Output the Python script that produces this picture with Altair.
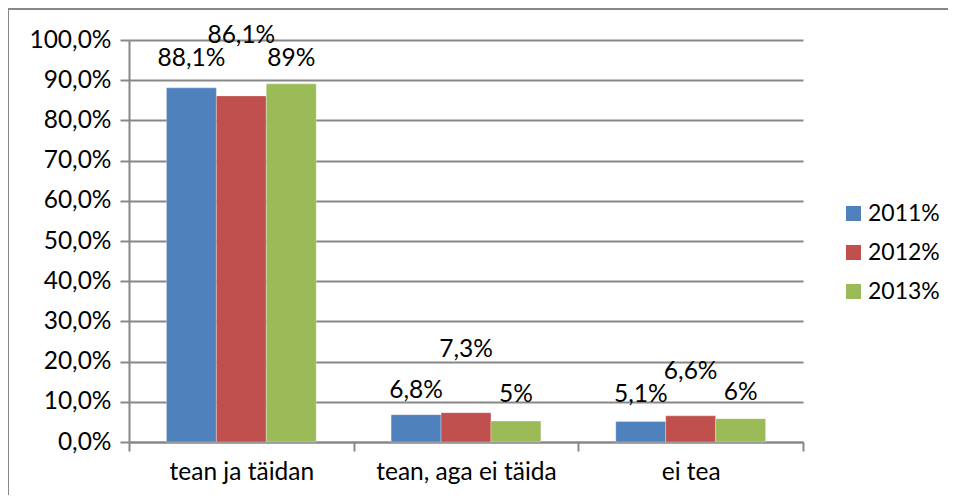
import altair as alt
import pandas as pd

categories = ["tean ja täidan", "tean, aga ei täida", "ei tea"]
series = ["2011%", "2012%", "2013%"]
values_2011 = [88.1, 6.8, 5.1]
values_2012 = [86.1, 7.3, 6.5]
values_2013 = [89.1, 5.2, 5.8]
labels_2011 = ["88,1%", "6,8%", "5,1%"]
labels_2012 = ["86,1%", "7,3%", "6,6%"]
labels_2013 = ["89%", "5%", "6%"]
# label anchor heights (in % units) as placed in the reference
label_at_2011 = [95.2, 12.8, 11.6]
label_at_2012 = [101.0, 22.8, 17.3]
label_at_2013 = [95.2, 11.6, 12.3]
colors = ["#4F81BD", "#C0504D", "#9BBB59"]
y_ticks = [0, 10, 20, 30, 40, 50, 60, 70, 80, 90, 100]

rows = []
for s, vals, labs, ats in [
    (series[0], values_2011, labels_2011, label_at_2011),
    (series[1], values_2012, labels_2012, label_at_2012),
    (series[2], values_2013, labels_2013, label_at_2013),
]:
    for c, v, l, a in zip(categories, vals, labs, ats):
        rows.append({"cat": c, "series": s, "value": v, "label": l, "at": a})
df = pd.DataFrame(rows)

FONT = "Lato"
FS = 24.5
LFS = 23

x_enc = alt.X("cat:N", sort=categories, title=None,
              scale=alt.Scale(paddingInner=0, paddingOuter=0),
              axis=alt.Axis(labelAngle=0, tickBand="extent", tickSize=9,
                            tickColor="#888888", domainColor="#888888",
                            tickWidth=2, domainWidth=2, labelLimit=0,
                            labelPadding=9, labelFontSize=FS, labelFont=FONT,
                            labelColor="#000000", grid=False))
xo_enc = alt.XOffset("series:N", sort=series,
                     scale=alt.Scale(paddingInner=0, paddingOuter=0.75))

bars = alt.Chart(df).mark_bar(stroke="#ffffff", strokeWidth=0.5, strokeOpacity=0.6).encode(
    x=x_enc,
    xOffset=xo_enc,
    y=alt.Y("value:Q", title=None,
            scale=alt.Scale(domain=[0, 100], nice=False),
            axis=alt.Axis(values=y_ticks, grid=True, gridColor="#888888", gridWidth=2,
                          tickSize=9, tickColor="#888888", tickWidth=2,
                          domainColor="#888888", domainWidth=2,
                          labelExpr="replace(format(datum.value, '.1f'), '.', ',') + '%'",
                          labelPadding=9, labelFontSize=FS, labelFont=FONT,
                          labelColor="#000000")),
    color=alt.Color("series:N", sort=series,
                    scale=alt.Scale(domain=series, range=colors),
                    legend=alt.Legend(title=None, orient="none", legendX=713, legendY=162,
                                      symbolType="square", symbolSize=225,
                                      symbolStrokeWidth=0, labelFontSize=LFS,
                                      labelFont=FONT, labelColor="#000000", labelLimit=0,
                                      rowPadding=15, labelOffset=3)),
)

texts = alt.Chart(df).mark_text(font=FONT, fontSize=FS, color="#000000",
                                baseline="middle", align="center").encode(
    x=alt.X("cat:N", sort=categories),
    xOffset=alt.XOffset("series:N", sort=series),
    y=alt.Y("at:Q"),
    text="label:N",
)

frame_data = alt.Data(values=[{}])
frame_top = alt.Chart(frame_data).mark_rule(
    stroke="#888888", strokeWidth=2, clip=False
).encode(x=alt.value(-121), x2=alt.value(819), y=alt.value(-31))
frame_left = alt.Chart(frame_data).mark_rule(
    stroke="#888888", strokeWidth=2, clip=False
).encode(x=alt.value(-121), y=alt.value(-32), y2=alt.value(455))

chart = alt.layer(frame_top, frame_left, bars, texts).properties(
    width=674, height=402,
    autosize=alt.AutoSizeParams(type="none"),
    padding={"left": 121, "top": 32, "right": 145, "bottom": 53},
).configure_view(stroke=None)

chart.save("out.html", embed_options={"renderer": "svg", "actions": False})
